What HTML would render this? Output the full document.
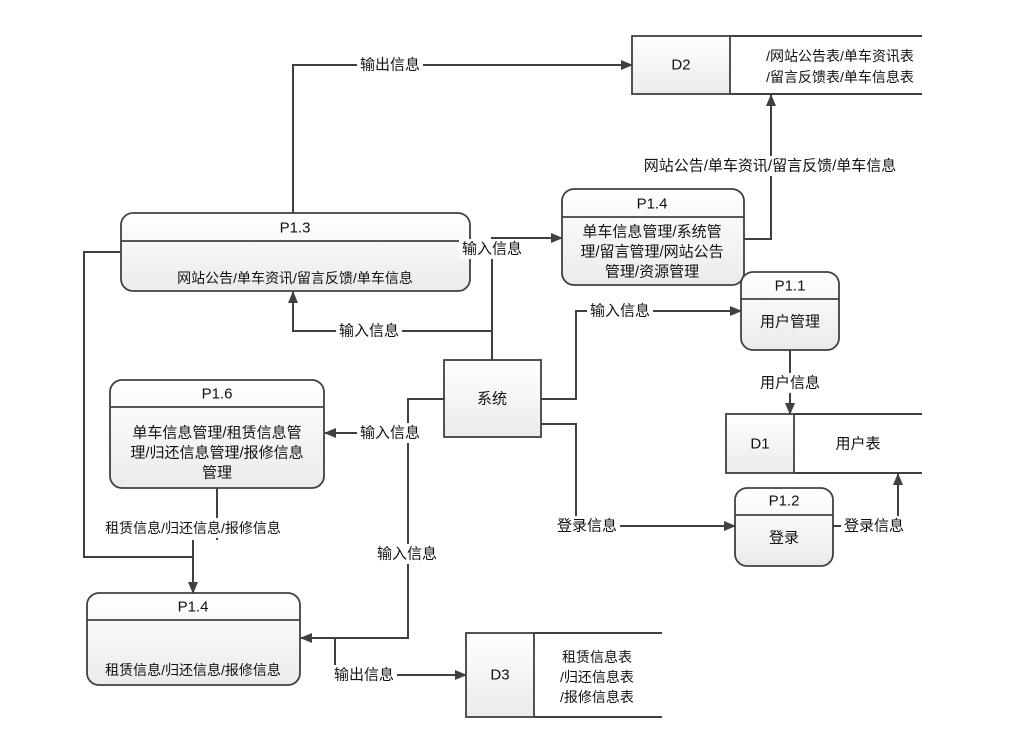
<!DOCTYPE html>
<html><head><meta charset="utf-8"><style>
html,body{margin:0;padding:0;background:#fff;}
svg{display:block;}
text{font-family:"Liberation Sans","Noto Sans CJK SC",sans-serif;fill:#111;}
</style></head><body>
<svg width="1017" height="755" viewBox="0 0 1017 755" xmlns="http://www.w3.org/2000/svg">
<defs>
<linearGradient id="g" x1="0" y1="0" x2="0" y2="1"><stop offset="0" stop-color="#ffffff"/><stop offset="1" stop-color="#ebebeb"/></linearGradient>
<marker id="a" markerWidth="12" markerHeight="10" refX="11" refY="5" orient="auto" markerUnits="userSpaceOnUse"><path d="M0,0 L12,5 L0,10 Z" fill="#404040"/></marker>
</defs>
<g stroke="#404040" stroke-width="1.8" fill="url(#g)">
<rect x="121" y="213" width="349" height="78" rx="12"/>
<line x1="121" y1="241" x2="470" y2="241"/>
<rect x="562" y="189" width="182" height="96" rx="12"/>
<line x1="562" y1="217" x2="744" y2="217"/>
<rect x="741" y="272" width="98" height="78" rx="12"/>
<line x1="741" y1="299" x2="839" y2="299"/>
<rect x="735" y="488" width="98" height="78" rx="12"/>
<line x1="735" y1="515" x2="833" y2="515"/>
<rect x="110" y="380" width="214" height="108" rx="12"/>
<line x1="110" y1="407" x2="324" y2="407"/>
<rect x="87" y="593" width="213" height="92" rx="12"/>
<line x1="87" y1="620" x2="300" y2="620"/>
<rect x="444" y="360" width="97" height="77"/>
<rect x="632" y="36" width="98" height="58"/>
<rect x="726" y="414" width="68" height="59"/>
<rect x="466" y="633" width="68" height="84"/>
</g>
<g stroke="#404040" stroke-width="2" fill="none">
<path d="M730,36 H922 M730,94 H922"/>
<path d="M794,414 H922 M794,473 H922"/>
<path d="M534,633 H662 M534,717 H662"/>
<path d="M293,213 V65 H632" marker-end="url(#a)"/>
<path d="M744,239 H771 V95" marker-end="url(#a)"/>
<path d="M492,360 V238 H562" marker-end="url(#a)"/>
<path d="M492,331 H293 V292" marker-end="url(#a)"/>
<path d="M444,399 H408 V638 H301" marker-end="url(#a)"/>
<path d="M408,433 H325" marker-end="url(#a)"/>
<path d="M541,399 H576 V311 H741" marker-end="url(#a)"/>
<path d="M541,424 H576 V526 H735" marker-end="url(#a)"/>
<path d="M790,350 V414" marker-end="url(#a)"/>
<path d="M833,526 H898 V474" marker-end="url(#a)"/>
<path d="M217,488 V540 M193,540 V593" marker-end="url(#a)"/>
<path d="M121,252 H84 V557 H193"/>
<path d="M335,638 V675 H466" marker-end="url(#a)"/>
</g>
<g fill="#fff">
<rect x="357" y="55" width="66" height="20"/>
<rect x="622" y="156" width="298" height="20"/>
<rect x="459" y="239" width="66" height="20"/>
<rect x="336" y="321" width="66" height="20"/>
<rect x="357" y="423" width="66" height="20"/>
<rect x="374" y="544" width="66" height="20"/>
<rect x="587" y="301" width="66" height="20"/>
<rect x="554" y="516" width="66" height="20"/>
<rect x="757" y="373" width="66" height="20"/>
<rect x="841" y="516" width="66" height="20"/>
<rect x="96" y="518" width="194" height="20"/>
<rect x="331" y="665" width="66" height="20"/>
</g>
<g font-size="15" text-anchor="middle" dominant-baseline="central">
<text x="390" y="65">输出信息</text>
<text x="770" y="166">网站公告/单车资讯/留言反馈/单车信息</text>
<text x="492" y="249">输入信息</text>
<text x="369" y="331">输入信息</text>
<text x="390" y="433">输入信息</text>
<text x="407" y="554">输入信息</text>
<text x="620" y="311">输入信息</text>
<text x="587" y="526">登录信息</text>
<text x="790" y="383">用户信息</text>
<text x="874" y="526">登录信息</text>
<text x="193" y="528" font-size="14">租赁信息/归还信息/报修信息</text>
<text x="364" y="675">输出信息</text>
<text x="295" y="228">P1.3</text>
<text x="295" y="278" font-size="14">网站公告/单车资讯/留言反馈/单车信息</text>
<text x="652" y="204">P1.4</text>
<text x="652" y="232">单车信息管理/系统管</text>
<text x="652" y="252">理/留言管理/网站公告</text>
<text x="652" y="272">管理/资源管理</text>
<text x="790" y="286">P1.1</text>
<text x="790" y="322">用户管理</text>
<text x="784" y="501">P1.2</text>
<text x="784" y="538">登录</text>
<text x="217" y="394">P1.6</text>
<text x="217" y="433">单车信息管理/租赁信息管</text>
<text x="217" y="453">理/归还信息管理/报修信息</text>
<text x="217" y="473">管理</text>
<text x="193" y="607">P1.4</text>
<text x="193" y="670" font-size="14">租赁信息/归还信息/报修信息</text>
<text x="492" y="399">系统</text>
<text x="681" y="65">D2</text>
<text x="840" y="56" font-size="14">/网站公告表/单车资讯表</text>
<text x="840" y="77" font-size="14">/留言反馈表/单车信息表</text>
<text x="760" y="444">D1</text>
<text x="858" y="444">用户表</text>
<text x="500" y="675">D3</text>
<text x="597" y="657" font-size="14">租赁信息表</text>
<text x="597" y="677" font-size="14">/归还信息表</text>
<text x="597" y="697" font-size="14">/报修信息表</text>
</g>
</svg>
</body></html>
